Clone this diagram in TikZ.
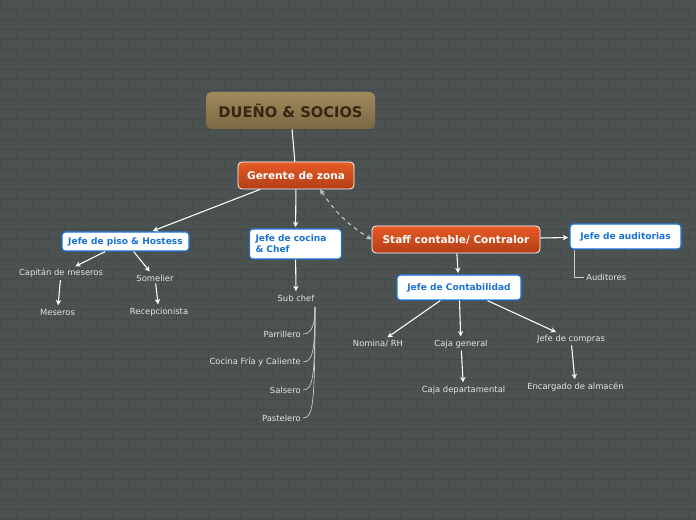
\documentclass[tikz,border=0pt]{standalone}
\usepackage{fontspec}
\setmainfont{DejaVu Sans}
\usetikzlibrary{arrows.meta}

\definecolor{board}{HTML}{4C5252}
\definecolor{mortar}{HTML}{454A4A}
\definecolor{ownertop}{HTML}{A08B5E}
\definecolor{ownerbot}{HTML}{7A6843}
\definecolor{ownertext}{HTML}{3B2412}
\definecolor{mgrtop}{HTML}{E65B25}
\definecolor{mgrbot}{HTML}{B33D16}
\definecolor{leadblue}{HTML}{1A72D4}
\definecolor{leaftext}{HTML}{E2E4E4}

\tikzset{
  owner/.style={rounded corners=4pt, top color=ownertop, bottom color=ownerbot,
    text=ownertext, font=\bfseries\fontsize{11}{13}\selectfont,
    minimum width=126.75pt, minimum height=27.75pt, inner sep=0pt},
  manager/.style={rounded corners=3pt, draw=white, line width=0.6pt,
    top color=mgrtop, bottom color=mgrbot, text=white,
    font=\bfseries\fontsize{7.9}{9.5}\selectfont, minimum height=20.25pt, inner sep=0pt},
  lead/.style={rounded corners=2.5pt, draw=leadblue, line width=0.9pt, fill=white,
    text=leadblue, font=\bfseries\fontsize{6.8}{8.2}\selectfont, inner sep=0pt},
  leaf/.style={text=leaftext, font=\fontsize{6.3}{7.5}\selectfont, inner sep=1.5pt},
  link/.style={draw=white, line width=0.8pt, -{Stealth[length=4pt,width=4pt]}, shorten >=1pt},
  plainlink/.style={draw=white, line width=0.8pt},
  tree/.style={draw=leaftext!85!board, line width=0.5pt},
}

\begin{document}
\begin{tikzpicture}[x=0.75pt,y=-0.75pt]
\fill[board] (0,0) rectangle (696,520);
\useasboundingbox (0,0) rectangle (696,520);
% bricks
\foreach \j in {0,...,51}{
  \draw[mortar, line width=0.5pt] (0,\j*10+9) -- (696,\j*10+9);
  \pgfmathsetmacro{\shift}{mod(\j,2)*16}
  \foreach \i in {0,...,22}{
    \draw[mortar, line width=0.5pt] (\i*32+\shift,\j*10-1) -- (\i*32+\shift,\j*10+9);
  }
}

\node[owner] (owner) at (290.5,110.5) {DUEÑO \& SOCIOS};
\node[manager, minimum width=87pt] (gerente) at (296,175.5) {Gerente de zona};
\node[lead, minimum width=95.25pt, minimum height=14.25pt] (piso) at (125.5,241.5) {Jefe de piso \& Hostess};
\node[lead, text width=60pt, align=left, inner xsep=4.5pt, minimum height=22.5pt] (cocina) at (295.5,244) {Jefe de cocina\\\& Chef};
\node[manager, minimum width=126pt] (staff) at (456,239.5) {Staff contable/ Contralor};
\node[lead, minimum width=83.25pt, minimum height=18.75pt] (audit) at (625.5,236.5) {Jefe de auditorias};
\node[lead, minimum width=93pt, minimum height=18.75pt] (conta) at (459,287.5) {Jefe de Contabilidad};

\node[leaf] (capitan) at (61,273.5) {Capitán de meseros};
\node[leaf] (somelier) at (155,278) {Somelier};
\node[leaf] (meseros) at (57.5,312) {Meseros};
\node[leaf] (recep) at (159,312) {Recepcionista};
\node[leaf] (subchef) at (296,298) {Sub chef};
\node[leaf, anchor=east] (parri) at (303,334) {Parrillero};
\node[leaf, anchor=east] (fria) at (303,362) {Cocina Fría y Caliente};
\node[leaf, anchor=east] (salsero) at (303,390) {Salsero};
\node[leaf, anchor=east] (pastel) at (303,418) {Pastelero};
\node[leaf, anchor=west] (auditores) at (584,277) {Auditores};
\node[leaf] (nomina) at (378,344) {Nomina/ RH};
\node[leaf] (cajagen) at (461,344) {Caja general};
\node[leaf] (compras) at (571,339) {Jefe de compras};
\node[leaf] (cajadep) at (463.5,390) {Caja departamental};
\node[leaf] (almacen) at (575.5,387) {Encargado de almacén};

\coordinate (subroot) at (315,307);

\draw[plainlink] (owner) -- (gerente);
\draw[link] (gerente) -- (piso);
\draw[link] (gerente) -- (cocina);
\draw[draw=leaftext!80!board, line width=0.8pt, dashed,
  {Stealth[length=4pt,width=4pt]}-{Stealth[length=4pt,width=4pt]}]
  (gerente.-30) to[bend right=12] (staff.west);
\draw[link] (staff) -- (audit);
\draw[link] (staff) -- (conta);
\draw[link] (piso) -- (capitan);
\draw[link] (piso) -- (somelier);
\draw[link] (capitan) -- (meseros);
\draw[link] (somelier) -- (recep);
\draw[link] (cocina) -- (subchef);
\foreach \n/\y in {parri/334,fria/362,salsero/390,pastel/418}
  \draw[tree] (subroot) .. controls (315,\y-12) and (313,\y) .. (\n.east);
\draw[tree] ([xshift=4pt]audit.south west) |- (auditores.west);
\draw[link] (conta) -- (nomina);
\draw[link] (conta) -- (cajagen);
\draw[link] (conta) -- (compras);
\draw[link] (cajagen) -- (cajadep);
\draw[link] (compras) -- (almacen);
\end{tikzpicture}
\end{document}
